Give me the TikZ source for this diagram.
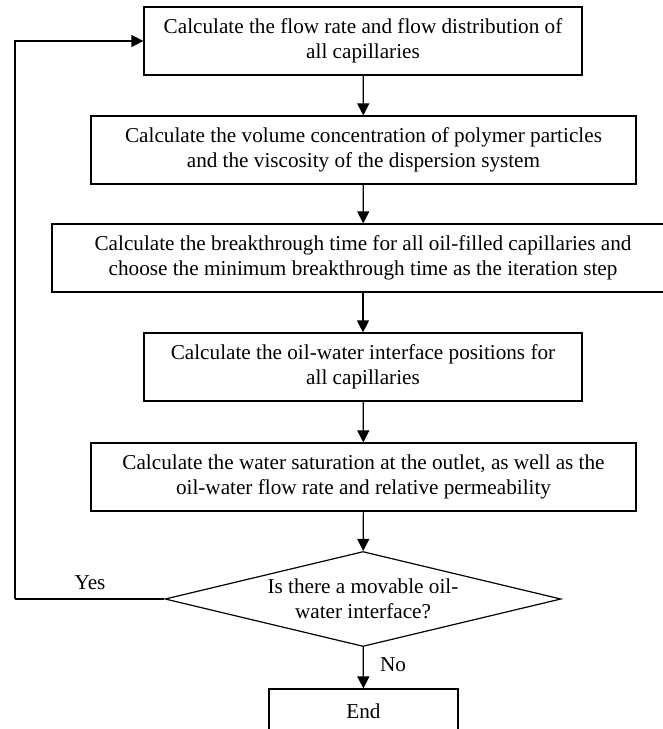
\documentclass[tikz,border=0pt]{standalone}
\usepackage{fontspec}
\setmainfont{Liberation Serif}
\usetikzlibrary{shapes.geometric,arrows.meta}
\begin{document}
\begin{tikzpicture}[x=0.5pt,y=-0.5pt,line width=0.6pt,
  >={Triangle[length=6pt,width=6pt]},
  every node/.style={font=\fontsize{10.6}{12.5}\selectfont},
  box/.style={draw,align=center,minimum height=34pt,inner sep=0pt}]
  \useasboundingbox (0,0) rectangle (663,729);

  \node (c1) at (363,41) [box,minimum width=219pt]{Calculate the flow rate and flow distribution of\\all capillaries};
  \node (c2) at (363.5,150) [box,minimum width=272.5pt]{Calculate the volume concentration of polymer particles\\and the viscosity of the dispersion system};
  \node (c3) at (363,258) [box,minimum width=311pt]{Calculate the breakthrough time for all oil-filled capillaries and\\choose the minimum breakthrough time as the iteration step};
  \node (c4) at (363,367) [box,minimum width=219pt]{Calculate the oil-water interface positions for\\all capillaries};
  \node (c5) at (363.5,477) [box,minimum width=272.5pt]{Calculate the water saturation at the outlet, as well as the\\oil-water flow rate and relative permeability};

  \node (dec) at (363,599) [draw,diamond,aspect=4.17,align=center,inner sep=0pt,minimum width=198pt,minimum height=47.5pt]{Is there a movable oil-\\water interface?};

  \node (end) at (363.5,711) [box,minimum width=94.5pt,minimum height=22pt]{End};

  \coordinate (loop) at (15,599);
  \node (yes) at (90,583) []{Yes};
  \node (no) at (393,665) []{No};


  \draw[->] (c1) -- (c2);
  \draw[->] (c2) -- (c3);
  \draw[->] (c3) -- (c4);
  \draw[->] (c4) -- (c5);
  \draw[->] (c5) -- (dec);

  \draw (dec) -- (loop);
  \draw[->] (loop) |- (c1);

  \draw[->] (dec) -- (end);

\end{tikzpicture}
\end{document}
